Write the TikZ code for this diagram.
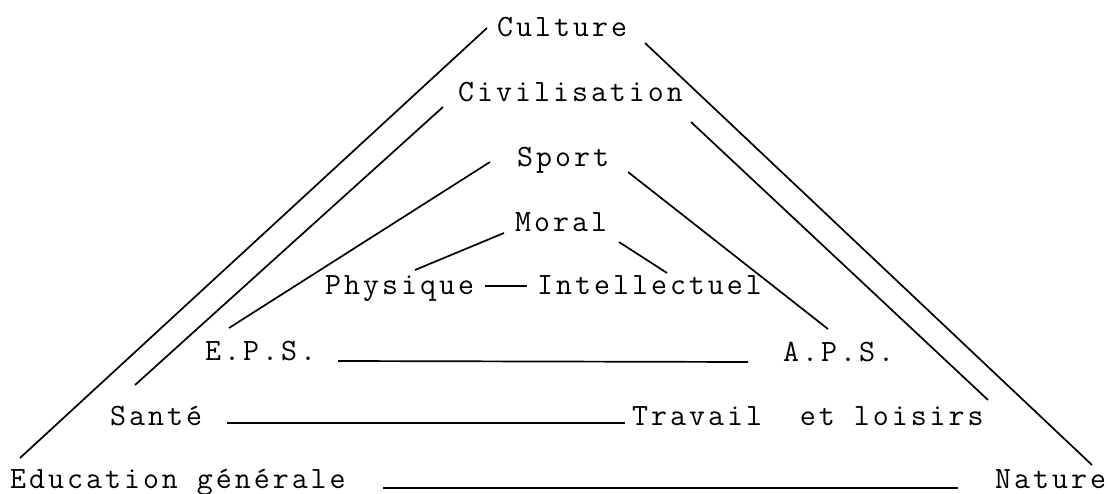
\documentclass[tikz,border=0pt]{standalone}
\usepackage{fontspec}
\setmonofont{Latin Modern Mono}[LetterSpace=9.7]

\tikzset{
  term/.style={anchor=base west, inner sep=0pt, font=\ttfamily\fontsize{31}{36}\selectfont},
  link/.style={line width=1.7pt}
}

\begin{document}
\begin{tikzpicture}[x=1pt, y=-1pt]
\useasboundingbox (0,0) rectangle (1109,494);

% terms, placed on their baselines
\node[term] (culture) at (497,37) {Culture};
\node[term] (civil) at (458,102) {Civilisation};
\node[term] (sport) at (517,167) {Sport};
\node[term] (moral) at (515,232) {Moral};
\node[term] (physique) at (325,295) {Physique};
\node[term] (intel) at (537,295) {Intellectuel};
\node[term] (eps) at (205,361) {E.P.S.};
\node[term] (aps) at (783,362) {A.P.S.};
\node[term] (sante) at (110,425) {Santé};
\node[term] (travail) at (632,425) {Travail~~et loisirs};
\node[term] (educ) at (10,488) {Education générale};
\node[term] (nature) at (995,488) {Nature};

% outer triangle
\draw[link] ([shift={(-10,-9)}]culture.base west) -- ([shift={(10,-30)}]educ.base west);
\draw[link] ([shift={(148,6)}]culture.base west) -- ([shift={(97,-23)}]nature.base west);
\draw[link] ([shift={(373,0)}]educ.base west) -- ([shift={(-37,0)}]nature.base west);

% second triangle
\draw[link] ([shift={(-15,5)}]civil.base west) -- ([shift={(25,-40)}]sante.base west);
\draw[link] ([shift={(233,20)}]civil.base west) -- ([shift={(356,-25)}]travail.base west);
\draw[link] ([shift={(117,-2)}]sante.base west) -- ([shift={(-7,-2)}]travail.base west);

% third triangle
\draw[link] ([shift={(-27,-5)}]sport.base west) -- ([shift={(24,-33)}]eps.base west);
\draw[link] ([shift={(111,5)}]sport.base west) -- ([shift={(45,-33)}]aps.base west);
\draw[link] ([shift={(133,0)}]eps.base west) -- ([shift={(-35,0)}]aps.base west);

% inner triangle
\draw[link] ([shift={(-11,1)}]moral.base west) -- ([shift={(90,-25)}]physique.base west);
\draw[link] ([shift={(104,10)}]moral.base west) -- ([shift={(130,-22)}]intel.base west);
\draw[link] ([shift={(160,-9)}]physique.base west) -- ([shift={(-10,-9)}]intel.base west);

\end{tikzpicture}
\end{document}
